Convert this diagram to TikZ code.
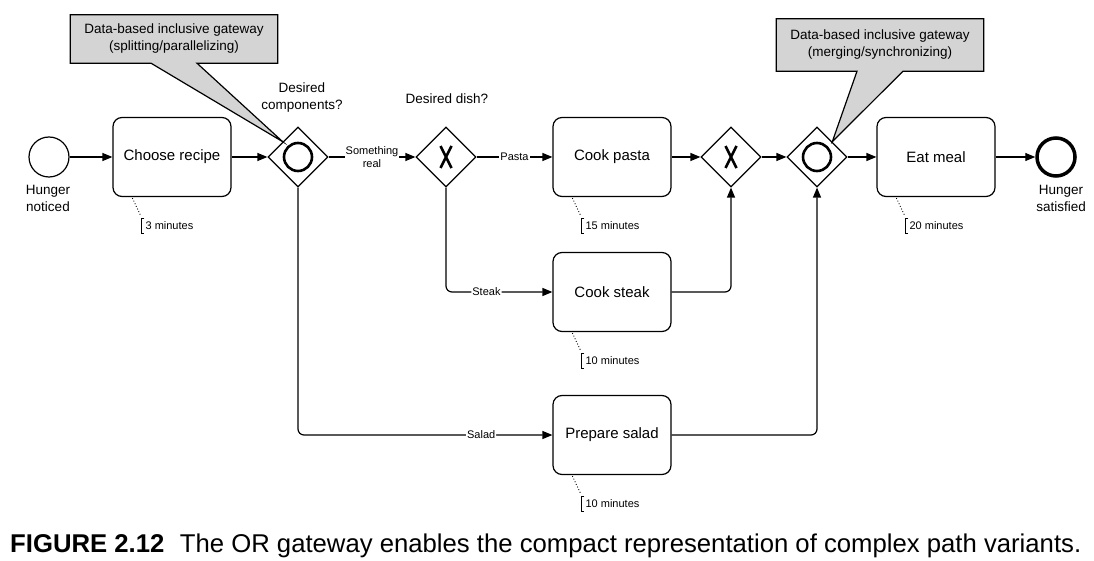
\documentclass[tikz,border=0pt]{standalone}
\usepackage{fontspec}
\setmainfont{Liberation Sans}
\usetikzlibrary{shapes.geometric,arrows.meta,calc,backgrounds}
\tikzstyle{event}=[circle,draw,line width=1.2pt,minimum size=40pt,inner sep=0pt]
\tikzstyle{endevent}=[event,line width=3.5pt,minimum size=38pt]
\tikzstyle{task}=[rectangle,draw,rounded corners=9pt,line width=1.2pt,minimum width=118pt,minimum height=79pt,font=\fontsize{15}{18}\selectfont]
\tikzstyle{gateway}=[diamond,draw,line width=1.2pt,minimum size=60pt,inner sep=0pt]
\tikzstyle{marker}=[line width=2.6pt]
\tikzstyle{flow}=[draw,line width=1.2pt,-{Triangle[length=10pt,width=8pt]}]
\tikzstyle{flowlabel}=[fill=white,inner sep=1pt,align=center,font=\fontsize{11}{13}\selectfont]
\tikzstyle{evlabel}=[align=center,font=\fontsize{13.5}{17}\selectfont]
\tikzstyle{note}=[align=center,font=\fontsize{13.5}{17}\selectfont,minimum width=207pt,minimum height=48pt]
\tikzstyle{notebox}=[draw,fill=black!17,line width=1.2pt]
\tikzstyle{timer}=[anchor=west,inner sep=0pt,font=\fontsize{11}{13}\selectfont]

\begin{document}
\begin{tikzpicture}[x=1pt,y=-1pt]
    \useasboundingbox (0,0) rectangle (1094,561);

    % Events and their labels
    \node[event] (start) at (49,157) {};
    \node[endevent] (finish) at (1056,157) {};
    \node[evlabel] (startlabel) at (48,198) {Hunger\\noticed};
    \node[evlabel] (finishlabel) at (1061,198) {Hunger\\satisfied};

    % Tasks
    \foreach \pos/ \name/ \text in {{(172,157)/recipe/Choose recipe},{(612,157)/pasta/Cook pasta},
        {(612,292)/steak/Cook steak},{(612,435)/salad/Prepare salad},{(936,157)/meal/Eat meal}}
        \node[task] (\name) at \pos {\text};

    % Gateways: inclusive (circle) and exclusive (X)
    \foreach \pos/ \name in {{(298,157)/orsplit},{(817,157)/orjoin}} {
        \node[gateway] (\name) at \pos {};
        \draw[marker] (\name) circle (14);
    }
    \foreach \pos/ \name in {{(446,157)/xorsplit},{(731,157)/xorjoin}} {
        \node[gateway] (\name) at \pos {};
        \draw[marker] ($(\name)+(-5.5,-11)$) -- ($(\name)+(5.5,11)$)
                      ($(\name)+(5.5,-11)$) -- ($(\name)+(-5.5,11)$);
    }
    \node[evlabel] (orquestion) at (302,98) {Desired\\components?};
    \node[evlabel] (xorquestion) at (447,99) {Desired dish?};

    % Sequence flows
    \foreach \source/ \dest in {start/recipe, recipe/orsplit, pasta/xorjoin, xorjoin/orjoin, orjoin/meal, meal/finish}
        \path[flow] (\source) -- (\dest);
    \path[flow] (orsplit) -- node[flowlabel] {Something\\real} (xorsplit);
    \path[flow] (xorsplit) -- node[flowlabel] {Pasta} (pasta);
    \path[flow,rounded corners=6pt] (xorsplit.south) |- node[flowlabel,pos=0.69] {Steak} (steak.west);
    \path[flow,rounded corners=6pt] (orsplit.south) |- node[flowlabel,pos=0.86] {Salad} (salad.west);
    \path[flow,rounded corners=6pt] (steak.east) -| (xorjoin.south);
    \path[flow,rounded corners=6pt] (salad.east) -| (orjoin.south);

    % Durations
    \foreach \name/ \mins in {recipe/3, pasta/15, steak/10, salad/10, meal/20} {
        \node[timer] (\name-time) at ($(\name.south west)+(33,28)$) {\mins{} minutes};
        \draw[dotted,line width=0.9pt] ($(\name.south west)+(20,1)$) -- ($(\name-time.west)+(-5,-10)$);
        \draw[line width=0.8pt] ($(\name-time.west)+(-1,-7)$) -- ++(-3,0) -- ++(0,15) -- ++(3,0);
    }

    % Text annotations
    \node[note] (splitnote) at (174,39) {Data-based inclusive gateway\\(splitting/parallelizing)};
    \node[note,minimum height=52pt] (joinnote) at (880,45) {Data-based inclusive gateway\\(merging/synchronizing)};
    \begin{scope}[on background layer]
    \foreach \note/ \gw/ \corner in {splitnote/orsplit/north west, joinnote/orjoin/north east}
        \filldraw[notebox] (\note.north west) -- (\note.north east) -- (\note.south east)
            -- ($(\note.south)+(23,0)$) -- (\gw.\corner) -- ($(\note.south)+(-23,0)$)
            -- (\note.south west) -- cycle;
    \end{scope}

    % Caption
    \node[anchor=west,inner sep=0pt,font=\fontsize{25.7}{30}\selectfont] (caption) at (10,546)
        {\textbf{FIGURE 2.12}\hspace{0.6em}The OR gateway enables the compact representation of complex path variants.};
\end{tikzpicture}
\end{document}
